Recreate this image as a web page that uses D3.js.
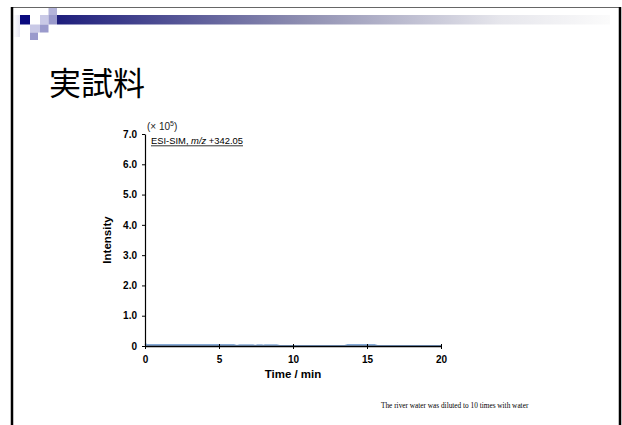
<!DOCTYPE html>
<html>
<head>
<meta charset="utf-8">
<script src="https://cdn.jsdelivr.net/npm/d3@7"></script>
<style>
  html, body { margin: 0; padding: 0; background: #fff; }
  svg { display: block; }
  .tick text { font-family: Arial, "Liberation Sans", sans-serif; font-weight: bold; font-size: 10px; fill: #000; }
</style>
</head>
<body>
<svg id="chart" width="622" height="425"></svg>
<script>
// Chromatogram trace: retention time (min) and intensity (x 10^5)
const times = [0, 0.15, 0.4, 6.0, 6.2, 6.4, 7.3, 7.45, 7.6, 7.9, 8.0, 8.1, 8.9, 9.1, 13.5, 13.7, 15.5, 15.7, 20];
const intensity = [0.07, 0.03, 0.03, 0.03, 0.0, 0.025, 0.025, 0.0, 0.025, 0.025, 0.0, 0.025, 0.025, 0.0, 0.0, 0.03, 0.03, 0.0, 0.0];

// Axis ticks
const xTicks = [0, 5, 10, 15, 20];
const yTicks = [0, 1, 2, 3, 4, 5, 6, 7];

// Texts
const slideTitle = "実試料";
const xTitle = "Time / min";
const yTitle = "Intensity";
const traceLabel = ["ESI-SIM, ", "m/z", " +342.05"];
const footNote = "The river water was diluted to 10 times with water";

const svg = d3.select("#chart");

// ---- slide frame and header decoration ----
const defs = svg.append("defs");
const grad = defs.append("linearGradient").attr("id", "hdr").attr("x1", "0").attr("x2", "1").attr("y1", "0").attr("y2", "0");
grad.append("stop").attr("offset", "0").attr("stop-color", "#1e1e7c");
grad.append("stop").attr("offset", "0.45").attr("stop-color", "#9090b2");
grad.append("stop").attr("offset", "0.8").attr("stop-color", "#e6e6ec");
grad.append("stop").attr("offset", "1").attr("stop-color", "#fbfbfb");

const lg = defs.append("linearGradient").attr("id", "side").attr("x1", "0").attr("x2", "1");
lg.append("stop").attr("offset", "0").attr("stop-color", "#ffffff");
lg.append("stop").attr("offset", "1").attr("stop-color", "#dcdcee");

svg.append("rect").attr("x", 57).attr("y", 15).attr("width", 553).attr("height", 9.5).attr("fill", "url(#hdr)");
svg.append("rect").attr("x", 13).attr("y", 15).attr("width", 7).attr("height", 22).attr("fill", "url(#side)").attr("opacity", 0.7);

const squares = [
  { x: 20, y: 15, w: 10, h: 9.5, c: "#0a0a7e" },
  { x: 40, y: 15, w: 8.5, h: 9.5, c: "#c9c9e6" },
  { x: 48.5, y: 15, w: 8.5, h: 9.5, c: "#9a9acc" },
  { x: 48.5, y: 7, w: 8.5, h: 8, c: "#b4b4da" },
  { x: 30, y: 24.5, w: 10, h: 8, c: "#c9c9e6" },
  { x: 40, y: 24.5, w: 8.5, h: 8, c: "#9a9acc" },
  { x: 30, y: 32.5, w: 8, h: 7.5, c: "#9a9acc" }
];
svg.selectAll("rect.sq").data(squares).enter().append("rect")
  .attr("class", "sq")
  .attr("x", d => d.x).attr("y", d => d.y)
  .attr("width", d => d.w).attr("height", d => d.h)
  .attr("fill", d => d.c);

svg.append("line").attr("x1", 11).attr("x2", 621).attr("y1", 7.5).attr("y2", 7.5)
  .attr("stroke", "#666").attr("stroke-width", 1);
svg.append("line").attr("x1", 12).attr("x2", 12).attr("y1", 7).attr("y2", 425)
  .attr("stroke", "#000").attr("stroke-width", 2.5);
svg.append("line").attr("x1", 620).attr("x2", 620).attr("y1", 7).attr("y2", 425)
  .attr("stroke", "#000").attr("stroke-width", 2.5);

// ---- slide title ----
svg.append("text")
  .attr("x", 49).attr("y", 95)
  .attr("font-family", "'Noto Sans CJK JP', sans-serif")
  .attr("font-size", 32)
  .attr("fill", "#000")
  .text(slideTitle);

// ---- chart ----
const x = d3.scaleLinear().domain([0, 20]).range([145, 441]);
const y = d3.scaleLinear().domain([0, 7]).range([346, 134]);

const line = d3.line().x((d, i) => x(times[i])).y(d => y(d));
svg.append("path")
  .datum(intensity)
  .attr("fill", "none")
  .attr("stroke", "#86a9d4")
  .attr("stroke-width", 2)
  .attr("d", line);

const yAxis = svg.append("g")
  .attr("transform", "translate(145,0)")
  .call(d3.axisLeft(y).tickValues(yTicks).tickSize(3).tickSizeOuter(0).tickPadding(5)
    .tickFormat(d => d === 0 ? "0" : d3.format(".1f")(d)));
yAxis.select(".domain").attr("stroke", "#000").attr("stroke-width", 1.2);

const xAxis = svg.append("g")
  .attr("transform", "translate(0,346)")
  .call(d3.axisBottom(x).tickValues(xTicks).tickSize(3).tickSizeOuter(0).tickPadding(7));
xAxis.select(".domain").attr("stroke", "#000").attr("stroke-width", 1.5);
xAxis.selectAll(".tick line").attr("y1", -2);

svg.append("text")
  .attr("x", 293).attr("y", 378)
  .attr("text-anchor", "middle")
  .attr("font-family", "Arial, 'Liberation Sans', sans-serif")
  .attr("font-weight", "bold").attr("font-size", 11.5)
  .text(xTitle);

svg.append("text")
  .attr("transform", "translate(111,240) rotate(-90)")
  .attr("text-anchor", "middle")
  .attr("font-family", "Arial, 'Liberation Sans', sans-serif")
  .attr("font-weight", "bold").attr("font-size", 11.5)
  .text(yTitle);

// scale multiplier
const mult = svg.append("text")
  .attr("x", 147).attr("y", 129.5)
  .attr("font-family", "Arial, 'Liberation Sans', sans-serif")
  .attr("font-size", 10).attr("fill", "#222");
mult.append("tspan").text("(\u00d7 10");
mult.append("tspan").attr("font-size", 7).attr("dy", -4).text("5");
mult.append("tspan").attr("dy", 4).text(")");

// trace label
const lab = svg.append("text")
  .attr("x", 151).attr("y", 143.5)
  .attr("font-family", "Arial, 'Liberation Sans', sans-serif")
  .attr("font-size", 9.4).attr("fill", "#000");
lab.append("tspan").text(traceLabel[0]);
lab.append("tspan").attr("font-style", "italic").text(traceLabel[1]);
lab.append("tspan").text(traceLabel[2]);
const bb = lab.node().getBBox();
svg.append("line")
  .attr("x1", bb.x).attr("x2", bb.x + bb.width)
  .attr("y1", 145.8).attr("y2", 145.8)
  .attr("stroke", "#000").attr("stroke-width", 0.8);

// footnote
svg.append("text")
  .attr("x", 381).attr("y", 408)
  .attr("font-family", "'Liberation Serif', 'Times New Roman', serif")
  .attr("font-size", 7.3).attr("fill", "#000")
  .text(footNote);
</script>
</body>
</html>
